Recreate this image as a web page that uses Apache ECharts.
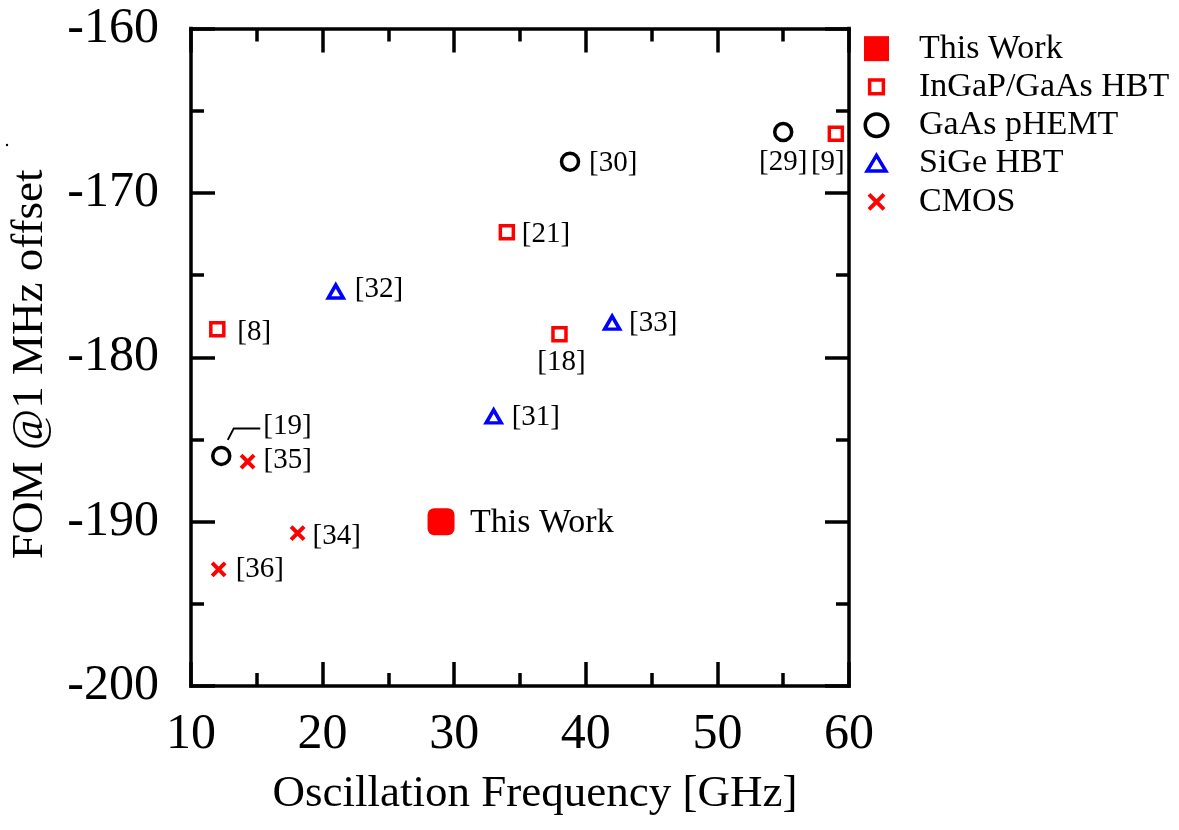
<!DOCTYPE html>
<html>
<head>
<meta charset="utf-8">
<script src="https://cdn.jsdelivr.net/npm/echarts@6/dist/echarts.min.js"></script>
<style>
  html, body { margin: 0; padding: 0; background: #ffffff; }
  #chart { width: 1179px; height: 830px; }
</style>
</head>
<body>
<div id="chart"></div>
<script>
// ---- data: oscillation frequency (GHz) and FOM @1 MHz offset (dBc/Hz) ----
const thisWorkRefs = ['This Work'];
const thisWorkFreq = [29];
const thisWorkFom = [-190.0];

const hbtRefs = ['[8]', '[21]', '[18]', '[9]'];
const hbtFreq = [12, 34, 38, 59];
const hbtFom = [-178.3, -172.4, -178.6, -166.4];

const phemtRefs = ['[30]', '[29]', '[19]'];
const phemtFreq = [38.8, 55, 12.3];
const phemtFom = [-168.1, -166.3, -186.0];

const sigeRefs = ['[32]', '[33]', '[31]'];
const sigeFreq = [21, 42, 33];
const sigeFom = [-176.0, -177.9, -183.6];

const cmosRefs = ['[35]', '[34]', '[36]'];
const cmosFreq = [14.3, 18.1, 12.1];
const cmosFom = [-186.35, -190.7, -192.9];

const seriesNames = ['This Work', 'InGaP/GaAs HBT', 'GaAs pHEMT', 'SiGe HBT', 'CMOS'];

// ---- styling ----
const FONT = '"Liberation Serif", "Times New Roman", serif';
const RED = '#ff0000';
const BLUE = '#0000ff';
const BLACK = '#000000';

// where each reference tag sits relative to its marker centre
const tagPlacement = {
  'This Work': { dx: 29, dy: 1, align: 'left', size: 34 },
  '[8]':  { dx: 20, dy: 3, align: 'left' },
  '[21]': { dx: 15, dy: 2, align: 'left' },
  '[18]': { dx: 2, dy: 28, align: 'center' },
  '[9]':  { dx: -8, dy: 29, align: 'center' },
  '[30]': { dx: 19, dy: 2, align: 'left' },
  '[29]': { dx: 0, dy: 30, align: 'center' },
  '[19]': { dx: 42, dy: -29, align: 'left' },
  '[32]': { dx: 19, dy: -2, align: 'left' },
  '[33]': { dx: 17, dy: 1, align: 'left' },
  '[31]': { dx: 18, dy: 1, align: 'left' },
  '[35]': { dx: 16, dy: -1, align: 'left' },
  '[34]': { dx: 15, dy: 3, align: 'left' },
  '[36]': { dx: 17, dy: 0, align: 'left' }
};

function buildPoints(refs, xs, ys) {
  return refs.map(function (ref, i) {
    const p = tagPlacement[ref];
    return {
      name: ref,
      value: [xs[i], ys[i]],
      label: {
        show: true,
        formatter: ref,
        position: 'inside',
        align: p.align,
        verticalAlign: 'middle',
        offset: [p.dx, p.dy],
        color: BLACK,
        opacity: 1,
        fontFamily: FONT,
        fontSize: p.size || 29
      }
    };
  });
}

const crossPath = 'path://M0,0L10,10M10,0L0,10';
// legend icons: an outer move-to pair fixes the 20x20 frame so each glyph keeps its own size
const crossLegendIcon = 'path://M0,0M20,20M4,4L16,16M16,4L4,16';
const openSquareLegendIcon = 'path://M0,0M20,20M4.5,4.5H15.5V15.5H4.5Z';
const circleLegendIcon = 'path://M0,0M20,20M19,10A9,9,0,1,1,1,10A9,9,0,1,1,19,10Z';
const triangleLegendIcon = 'path://M0,0M20,20M10,3.5L17.5,16H2.5Z';

function axisCommon(extra) {
  return Object.assign({
    axisLine: { show: true, onZero: false, lineStyle: { color: BLACK, width: 3.5, cap: 'square' } },
    axisTick: { show: true, inside: true, length: 24, lineStyle: { color: BLACK, width: 3.5 } },
    minorTick: { show: true, splitNumber: 2, length: 13, lineStyle: { color: BLACK, width: 3.5 } },
    splitLine: { show: false },
    minorSplitLine: { show: false }
  }, extra);
}

const chart = echarts.init(document.getElementById('chart'), null, { renderer: 'canvas' });

const option = {
  backgroundColor: '#ffffff',
  animation: false,
  grid: { left: 190, right: 330, top: 28.5, bottom: 144, containLabel: false },
  legend: {
    orient: 'vertical',
    left: 857,
    top: 24.5,
    itemGap: 0,
    itemWidth: 25,
    itemHeight: 25,
    selectedMode: false,
    textStyle: { fontFamily: FONT, fontSize: 34, color: BLACK, lineHeight: 38.3, padding: [0, 0, 0, 25] },
    itemStyle: { opacity: 1 },
    data: [
      { name: 'This Work', icon: 'rect', itemStyle: { borderWidth: 0 } },
      { name: 'InGaP/GaAs HBT', icon: openSquareLegendIcon, itemStyle: { borderWidth: 3.5 } },
      { name: 'GaAs pHEMT', icon: circleLegendIcon, itemStyle: { borderWidth: 3.5 } },
      { name: 'SiGe HBT', icon: triangleLegendIcon, itemStyle: { borderWidth: 3.5 } },
      { name: 'CMOS', icon: crossLegendIcon, itemStyle: { borderWidth: 4 } }
    ]
  },
  xAxis: [
    axisCommon({
      type: 'value', position: 'bottom', min: 10, max: 60, interval: 10,
      name: 'Oscillation Frequency [GHz]', nameLocation: 'middle', nameGap: 86,
      nameTextStyle: { fontFamily: FONT, fontSize: 45, color: BLACK, padding: [0, 0, 0, 30] },
      axisLabel: { show: true, margin: 24, fontFamily: FONT, fontSize: 50, color: BLACK }
    }),
    axisCommon({
      type: 'value', position: 'top', min: 10, max: 60, interval: 10,
      axisLabel: { show: false }
    })
  ],
  yAxis: [
    axisCommon({
      type: 'value', position: 'left', min: -200, max: -160, interval: 10,
      name: 'FOM @1 MHz offset', nameLocation: 'middle', nameGap: 138,
      nameTextStyle: { fontFamily: FONT, fontSize: 45, color: BLACK, padding: [0, 14, 0, 0] },
      axisLabel: { show: true, margin: 32, fontFamily: FONT, fontSize: 50, color: BLACK }
    }),
    axisCommon({
      type: 'value', position: 'right', min: -200, max: -160, interval: 10,
      axisLabel: { show: false }
    })
  ],
  series: [
    {
      name: seriesNames[0], type: 'scatter',
      symbol: 'roundRect', symbolSize: 27,
      itemStyle: { color: RED, borderWidth: 0, opacity: 1 },
      emphasis: { disabled: true },
      data: buildPoints(thisWorkRefs, thisWorkFreq, thisWorkFom)
    },
    {
      name: seriesNames[1], type: 'scatter',
      symbol: 'rect', symbolSize: 13,
      itemStyle: { color: 'rgba(255,255,255,0)', borderColor: RED, borderWidth: 3.5, opacity: 1 },
      emphasis: { disabled: true },
      data: buildPoints(hbtRefs, hbtFreq, hbtFom)
    },
    {
      name: seriesNames[2], type: 'scatter',
      symbol: 'circle', symbolSize: 17,
      itemStyle: { color: 'rgba(255,255,255,0)', borderColor: BLACK, borderWidth: 3.5, opacity: 1 },
      emphasis: { disabled: true },
      data: buildPoints(phemtRefs, phemtFreq, phemtFom)
    },
    {
      name: seriesNames[3], type: 'scatter',
      symbol: 'triangle', symbolSize: [15, 13],
      itemStyle: { color: 'rgba(255,255,255,0)', borderColor: BLUE, borderWidth: 3.5, opacity: 1 },
      emphasis: { disabled: true },
      data: buildPoints(sigeRefs, sigeFreq, sigeFom)
    },
    {
      name: seriesNames[4], type: 'scatter',
      symbol: crossPath, symbolSize: 13,
      itemStyle: { color: 'rgba(255,255,255,0)', borderColor: RED, borderWidth: 4, opacity: 1 },
      emphasis: { disabled: true },
      data: buildPoints(cmosRefs, cmosFreq, cmosFom)
    }
  ]
};

chart.setOption(option);

// leader line from the [19] marker to its tag, anchored through the axes
const i19 = phemtRefs.indexOf('[19]');
const p19 = chart.convertToPixel({ xAxisIndex: 0, yAxisIndex: 0 }, [phemtFreq[i19], phemtFom[i19]]);
chart.setOption({
  graphic: [
    {
      type: 'polyline',
      shape: { points: [[p19[0] + 6.5, p19[1] - 16], [p19[0] + 12.5, p19[1] - 27.5], [p19[0] + 39, p19[1] - 27.5]] },
      style: { stroke: BLACK, lineWidth: 2, fill: null },
      silent: true, z: 10
    },
    {
      type: 'circle',
      shape: { cx: 7, cy: 145, r: 1.2 },
      style: { fill: BLACK },
      silent: true
    }
  ]
});
</script>
</body>
</html>
